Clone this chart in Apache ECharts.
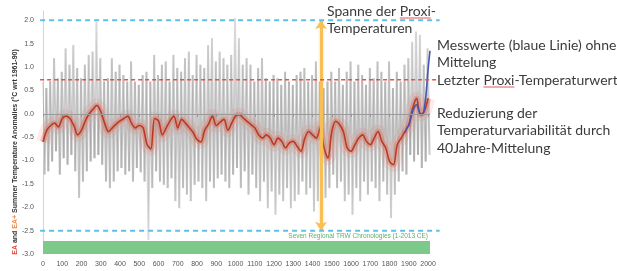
<!DOCTYPE html>
<html>
<head>
<meta charset="utf-8">
<script src="https://cdn.jsdelivr.net/npm/echarts@6/dist/echarts.min.js"></script>
<style>
html,body{margin:0;padding:0;background:#fff;}
#main{width:617px;height:271px;}
</style>
</head>
<body>
<div id="main"></div>
<script>
// tick labels
var xTicks = [0,100,200,300,400,500,600,700,800,900,1000,1100,1200,1300,1400,1500,1600,1700,1800,1900,2000];
var yTicks = [-3,-2.5,-2,-1.5,-1,-0.5,0,0.5,1,1.5,2];

// annual proxy spread (grey): highs at years 0,20,..,2000 and lows at 10,30,..,2010
var grayHi = [0.68,0.55,0.70,1.19,0.76,0.90,1.40,1.05,1.47,0.98,0.76,1.05,1.26,1.33,1.97,1.19,0.69,0.76,1.19,0.90,1.05,0.83,0.69,1.12,0.69,
  0.62,0.83,0.90,0.69,1.26,0.83,1.05,1.12,0.69,1.26,0.98,0.90,1.19,1.33,0.83,1.26,1.05,0.98,1.47,1.62,1.12,1.33,1.19,1.05,1.26,2.05,
  1.62,1.05,1.19,1.05,0.69,0.98,1.19,0.76,0.69,0.83,0.76,0.62,0.90,0.69,0.62,0.83,0.90,0.98,0.69,0.83,1.12,0.69,0.55,0.69,0.90,
  0.69,0.98,0.62,0.90,1.12,0.69,1.05,0.83,0.62,0.98,0.76,1.12,0.90,0.69,1.12,0.55,0.90,0.69,1.05,1.19,1.54,1.76,1.69,1.05,1.40];
var grayLo = [-1.30,-1.23,-1.02,-0.80,-1.30,-0.95,-1.09,-0.88,-1.23,-1.80,-1.45,-1.23,-1.02,-0.95,-0.88,-1.09,-1.45,-1.59,-1.45,-1.23,-1.16,-1.30,-1.23,-1.45,-1.16,
  -1.25,-1.45,-2.70,-1.59,-1.23,-1.45,-1.52,-1.59,-1.38,-1.87,-2.02,-1.59,-1.73,-1.87,-1.52,-1.45,-1.59,-1.87,-1.45,-1.59,-1.38,-1.30,-1.45,-1.59,-1.30,
  -1.16,-1.59,-1.23,-1.73,-1.30,-1.59,-1.87,-1.45,-2.02,-1.66,-2.16,-1.73,-1.87,-1.59,-2.02,-1.87,-1.73,-1.45,-1.73,-1.59,-2.09,-1.87,-1.45,-1.80,-1.59,
  -1.30,-1.59,-1.45,-1.87,-1.73,-2.16,-1.59,-1.87,-1.45,-1.73,-1.45,-1.59,-1.87,-1.45,-1.73,-2.23,-1.73,-1.45,-1.23,-1.30,-0.88,-1.02,-0.88,-1.16,-1.02,-0.88];

// 40-year mean (red), years 0,20,..,2000
var redMean = [-0.60,-0.35,-0.25,-0.20,-0.28,-0.10,-0.05,-0.10,-0.25,-0.45,-0.35,-0.15,0.00,0.10,0.18,0.05,-0.20,-0.38,-0.30,-0.22,-0.15,-0.10,-0.05,-0.20,-0.30,
  -0.25,-0.30,-0.65,-0.75,-0.10,-0.15,-0.45,-0.30,-0.15,-0.05,-0.30,-0.12,-0.20,-0.30,-0.40,-0.55,-0.60,-0.35,-0.22,-0.05,-0.25,-0.18,-0.12,-0.35,-0.20,-0.05,
  -0.02,-0.09,-0.16,-0.23,-0.30,-0.45,-0.52,-0.45,-0.52,-0.66,-0.52,-0.59,-0.73,-0.62,-0.59,-0.70,-0.80,-0.52,-0.38,-0.45,-0.52,-0.30,-0.73,-0.95,-0.38,
  -0.16,-0.23,-0.38,-0.73,-0.80,-0.66,-0.52,-0.45,-0.59,-0.66,-0.52,-0.38,-0.59,-0.73,-1.02,-1.09,-0.66,-0.52,-0.38,-0.23,0.12,0.33,-0.02,0.05,0.33];

// instrumental (blue)
var blueYears = [1880,1890,1900,1910,1920,1930,1940,1950,1960,1970,1980,1990,2000,2010];
var blueObs = [-0.40,-0.30,-0.25,-0.10,0.05,0.15,0.20,0.10,0.00,-0.02,0.10,0.45,0.95,1.35];

var proxyLast = 0.73;
var rangeTop = 2.0, rangeBottom = -2.5;
var arrowYear = 1444;
var barTop = -2.72, barBottom = -3.0;

// two interleaved zig-zags through the same highs and lows give a dense haze
var zigA = [], zigB = [];
for (var i = 0; i < grayHi.length; i++) {
  zigA.push([i * 20, grayHi[i]]);
  zigA.push([i * 20 + 10, grayLo[i]]);
  zigB.push([i * 20 + 5, grayLo[i]]);
  if (i + 1 < grayHi.length) zigB.push([i * 20 + 15, grayHi[i + 1]]);
}
var red = redMean.map(function (v, i) { return [i * 20, v]; });
var blue = blueObs.map(function (v, i) { return [blueYears[i], v]; });

var chart = echarts.init(document.getElementById('main'));
var lab = { color: '#555', fontSize: 7, fontFamily: 'Liberation Sans' };

function grayGrad() {
  return new echarts.graphic.LinearGradient(0, 0, 0, 1, [
    { offset: 0, color: 'rgba(175,175,175,0.12)' },
    { offset: 0.3, color: 'rgba(150,150,150,0.25)' },
    { offset: 0.5, color: 'rgba(140,140,140,0.32)' },
    { offset: 0.7, color: 'rgba(150,150,150,0.25)' },
    { offset: 1, color: 'rgba(175,175,175,0.12)' }
  ]);
}

chart.setOption({
  animation: false,
  grid: { left: 43, right: 187, top: 11, bottom: 17 },
  xAxis: {
    type: 'value', min: 0, max: 2010, interval: 100,
    axisLine: { show: false },
    axisTick: { show: true, length: 3, lineStyle: { color: '#999' }, customValues: xTicks },
    axisLabel: Object.assign({ margin: 7, customValues: xTicks, formatter: function (v) { return String(v); } }, lab),
    splitLine: { show: false }
  },
  yAxis: {
    type: 'value', min: -3, max: 2.2, interval: 0.5, offset: 3,
    axisLine: { show: true, lineStyle: { color: '#d4d4d4' } },
    axisTick: { show: false },
    axisLabel: Object.assign({ margin: 6, customValues: yTicks, formatter: function (v) { return v.toFixed(1); } }, lab),
    splitLine: { show: false }
  },
  series: [
    {
      type: 'line', data: zigA, symbol: 'none', z: 1,
      lineStyle: { width: 1, color: grayGrad() },
      markArea: {
        silent: true,
        itemStyle: { color: '#7cc98a' },
        data: [[{ xAxis: 0, yAxis: barTop }, { xAxis: 2010, yAxis: barBottom }]]
      },
      markLine: {
        silent: true, symbol: 'none', label: { show: false },
        lineStyle: { color: '#9a9a9a', width: 1, type: 'solid' },
        data: [{ yAxis: 0 }]
      }
    },
    {
      type: 'line', data: zigB, symbol: 'none', z: 1,
      lineStyle: { width: 1, color: grayGrad() }
    },
    {
      type: 'line', data: red, symbol: 'none', smooth: 0.3, z: 2,
      lineStyle: { width: 14, color: 'rgba(225,110,90,0.13)' }
    },
    {
      type: 'line', data: red, symbol: 'none', smooth: 0.3, z: 2,
      lineStyle: { width: 6, color: 'rgba(220,85,60,0.3)' }
    },
    {
      type: 'line', data: red, symbol: 'none', smooth: 0.3, z: 3,
      lineStyle: { width: 1.6, color: '#b93a25' }
    },
    {
      type: 'line', data: blue, symbol: 'none', smooth: 0.3, z: 4,
      lineStyle: { width: 1.6, color: '#4656b8' }
    },
    {
      type: 'line', data: [], z: 6,
      markLine: {
        silent: true, symbol: ['arrow', 'arrow'], symbolSize: 9, label: { show: false },
        lineStyle: { color: '#f7bf55', width: 3, type: 'solid', shadowBlur: 3, shadowColor: 'rgba(247,191,85,0.6)' },
        itemStyle: { color: '#f5a623' },
        data: [[{ coord: [arrowYear, rangeTop] }, { coord: [arrowYear, rangeBottom] }]]
      }
    }
  ]
});

var noteFont = 14;
var ctx = document.createElement('canvas').getContext('2d');
ctx.font = noteFont + 'px Lato';
function tw(s) { return ctx.measureText(s).width; }

function px(x, y) { return chart.convertToPixel({ gridIndex: 0 }, [x, y]); }
function hline(x1, x2, y, color, w, dash) {
  var a = px(x1, y), b = px(x2, y);
  return { type: 'line', z: 5, shape: { x1: a[0], y1: a[1], x2: b[0], y2: b[1] }, style: { stroke: color, lineWidth: w, lineDash: dash } };
}
function note(x, y, t) {
  return { type: 'text', x: x, y: y, z: 10, style: { text: t, fill: '#3b3b3b', fontSize: noteFont, fontFamily: 'Lato', verticalAlign: 'middle' } };
}
function squiggle(x, y, pre, word) {
  var x1 = x + tw(pre), x2 = x1 + tw(word);
  return { type: 'line', z: 10, shape: { x1: x1, y1: y, x2: x2, y2: y }, style: { stroke: '#e05a5a', lineWidth: 1 } };
}
var g = px(2010, barTop);
chart.setOption({
  graphic: [
    hline(-15, 2060, rangeTop, '#5cc0ea', 2, [5, 4]),
    hline(-15, 2060, rangeBottom, '#5cc0ea', 2, [5, 4]),
    hline(-15, 2045, proxyLast, '#e5524a', 1.5, [4, 3]),
    { type: 'text', x: g[0] - 2, y: g[1] - 1, z: 10,
      style: { text: 'Seven Regional TRW Chronologies (1-2013 CE)', fill: '#5cb06a', fontSize: 6.5, fontFamily: 'Liberation Sans', align: 'right', verticalAlign: 'bottom' } },
    { type: 'text', x: 15, y: 152, rotation: Math.PI / 2, z: 10,
      style: {
        text: '{r|EA} and {o|EA+} Summer Temperature Anomalies (°C wrt 1961-90)',
        fill: '#333', fontSize: 7, fontWeight: 'bold', fontFamily: 'Liberation Sans', align: 'center', verticalAlign: 'middle',
        rich: { r: { fill: '#e0473a', fontSize: 7, fontWeight: 'bold' }, o: { fill: '#f0874a', fontSize: 7, fontWeight: 'bold' } }
      } },
    note(327, 11, 'Spanne der Proxi-'),
    note(327, 28, 'Temperaturen'),
    note(437, 45, 'Messwerte (blaue Linie) ohne'),
    note(437, 62, 'Mittelung'),
    note(437, 80, 'Letzter Proxi-Temperaturwert'),
    note(437, 113, 'Reduzierung der'),
    note(437, 130, 'Temperaturvariabilität durch'),
    note(437, 148, '40Jahre-Mittelung'),
    squiggle(327, 18, 'Spanne der ', 'Proxi'),
    squiggle(437, 87, 'Letzter ', 'Proxi')
  ]
});
</script>
</body>
</html>
